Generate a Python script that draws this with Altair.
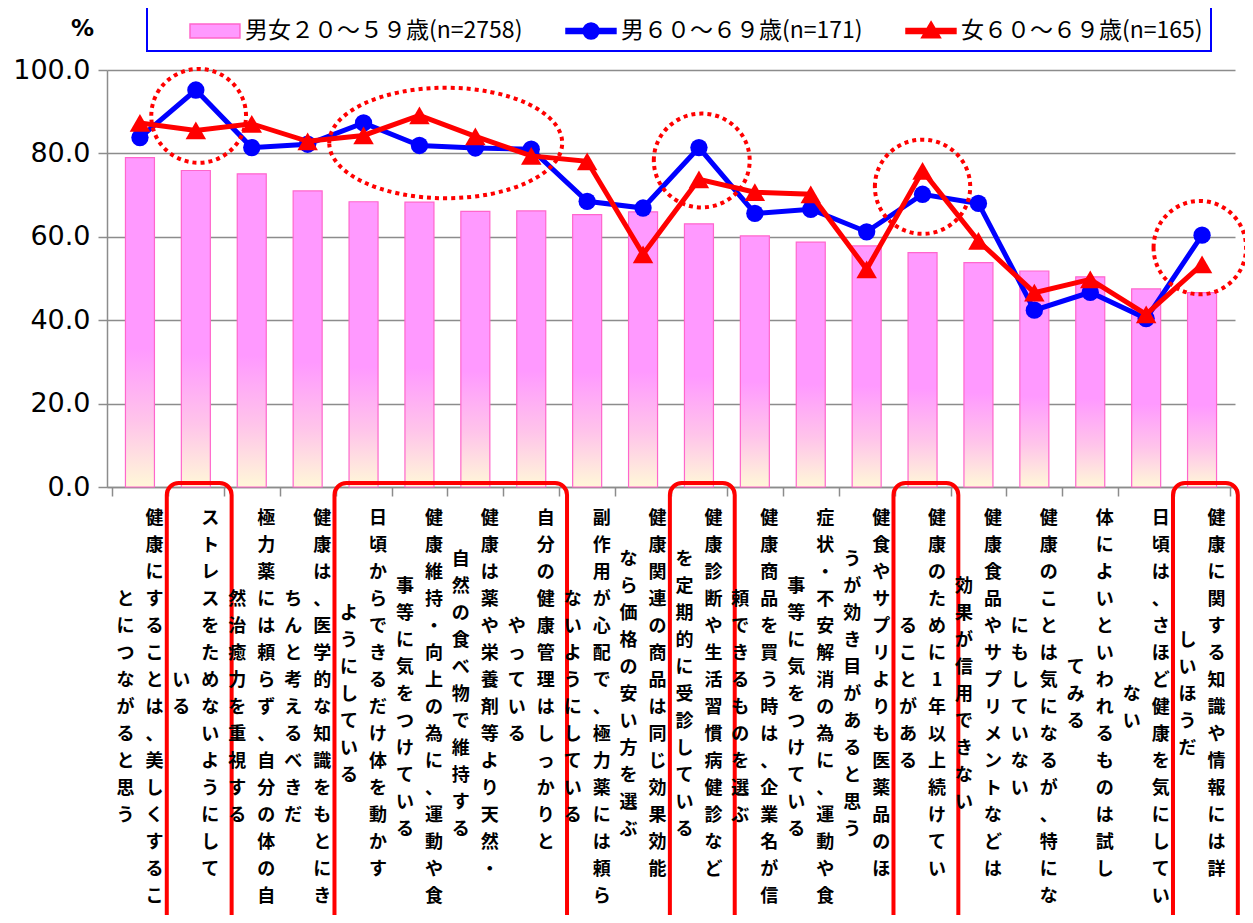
import altair as alt
import pandas as pd

# ---------------- data ----------------
series_names = ["男女２０～５９歳(n=2758)", "男６０～６９歳(n=171)", "女６０～６９歳(n=165)"]

label_col1 = [
    "健康にすることは、美しくするこ",
    "ストレスをためないようにして",
    "極力薬には頼らず、自分の体の自",
    "健康は、医学的な知識をもとにき",
    "日頃からできるだけ体を動かす",
    "健康維持・向上の為に、運動や食",
    "健康は薬や栄養剤等より天然・",
    "自分の健康管理はしっかりと",
    "副作用が心配で、極力薬には頼ら",
    "健康関連の商品は同じ効果効能",
    "健康診断や生活習慣病健診など",
    "健康商品を買う時は、企業名が信",
    "症状・不安解消の為に、運動や食",
    "健食やサプリよりも医薬品のほ",
    "健康のために1年以上続けてい",
    "健康食品やサプリメントなどは",
    "健康のことは気になるが、特にな",
    "体によいといわれるものは試し",
    "日頃は、さほど健康を気にしてい",
    "健康に関する知識や情報には詳",
]
label_col2 = [
    "とにつながると思う",
    "いる",
    "然治癒力を重視する",
    "ちんと考えるべきだ",
    "ようにしている",
    "事等に気をつけている",
    "自然の食べ物で維持する",
    "やっている",
    "ないようにしている",
    "なら価格の安い方を選ぶ",
    "を定期的に受診している",
    "頼できるものを選ぶ",
    "事等に気をつけている",
    "うが効き目があると思う",
    "ることがある",
    "効果が信用できない",
    "にもしていない",
    "てみる",
    "ない",
    "しいほうだ",
]

bar_values = [79.0, 75.9, 75.1, 71.0, 68.4, 68.3, 66.1, 66.2, 65.3, 66.0,
              63.1, 60.2, 58.7, 57.8, 56.2, 53.8, 51.8, 50.4, 47.5, 46.6]
male_values = [83.8, 95.2, 81.4, 82.2, 87.3, 81.9, 81.3, 81.0, 68.5, 66.9,
               81.4, 65.6, 66.6, 61.2, 70.2, 68.0, 42.4, 46.7, 40.4, 60.4]
female_values = [87.3, 85.5, 87.1, 82.9, 84.3, 89.1, 84.1, 79.4, 78.1, 55.8,
                 73.8, 70.7, 70.2, 52.2, 75.8, 59.0, 46.6, 49.8, 41.4, 53.4]
y_ticks = [0, 20, 40, 60, 80, 100]

# highlighted categories (0-based index ranges)
hl_first = [1, 4, 10, 14, 19]
hl_last = [1, 7, 10, 14, 19]
# dotted ellipses: centre (category index, value) and extent (categories, value units)
ell_center = [1.05, 5.47, 10.05, 14.0, 18.96]
ell_value = [89.0, 82.5, 78.3, 72.0, 57.4]
ell_w = [1.68, 4.13, 1.70, 1.69, 1.64]
ell_h = [22.5, 26.5, 22.5, 22.6, 22.4]

# ---------------- layout ----------------
W, H = 1128, 417
N = len(bar_values)
CAT_PX = W / N
VAL_PX = H / 100.0
LABEL_TOP = 440     # px below plot top
PITCH = 27          # vertical character pitch
GRAY = "#8c8c8c"
JP = "Noto Sans CJK JP"


def px_to_value(px_from_top):
    return 100.0 - px_from_top / VAL_PX


df = pd.DataFrame({"idx": list(range(N)), "bar": bar_values,
                   "male": male_values, "female": female_values})

x_scale = alt.Scale(domain=[-0.5, N - 0.5], nice=False, zero=False)
y_scale = alt.Scale(domain=[0, 100], nice=False)

grad = alt.LinearGradient(
    gradient="linear", x1=0, x2=0, y1=0, y2=1,
    stops=[alt.GradientStop(offset=0, color="#ff99ff"),
           alt.GradientStop(offset=0.58, color="#ff99ff"),
           alt.GradientStop(offset=0.8, color="#ffc4ea"),
           alt.GradientStop(offset=1, color="#fff8d8")])

x_axis = alt.Axis(values=[i - 0.5 for i in range(N + 1)], labels=False, title=None,
                  grid=False, ticks=True, tickSize=9, tickColor=GRAY, tickWidth=1.5,
                  domainColor=GRAY, domainWidth=1.5)
y_axis = alt.Axis(values=y_ticks, format=".1f", title="%", titleAngle=0,
                  titleX=-25, titleY=-42, titleAlign="center", titleBaseline="middle",
                  titleFont="DejaVu Sans", titleFontSize=23, titleFontWeight="bold",
                  titleColor="#000000",
                  labelFont="DejaVu Sans", labelFontSize=27, labelColor="#000000",
                  labelPadding=8, tickSize=9, tickColor=GRAY, tickWidth=1.5,
                  domainColor=GRAY, domainWidth=1.5, grid=True, gridColor=GRAY,
                  gridWidth=1.5)


def X(f):
    return alt.X(f, scale=x_scale, axis=x_axis)


def Y(f):
    return alt.Y(f, scale=y_scale, axis=y_axis)


bars = alt.Chart(df).mark_bar(width=29, fill=grad, stroke="#ff66cc", strokeWidth=1.2,
                              orient="vertical").encode(x=X("idx:Q"), y=Y("bar:Q"))

male_line = alt.Chart(df).mark_line(color="#0000ff", strokeWidth=5).encode(
    x=X("idx:Q"), y=Y("male:Q"))
male_pts = alt.Chart(df).mark_point(shape="circle", filled=True, size=300,
                                    color="#0000ff", opacity=1).encode(
    x=X("idx:Q"), y=Y("male:Q"))
female_line = alt.Chart(df).mark_line(color="#ff0000", strokeWidth=5).encode(
    x=X("idx:Q"), y=Y("female:Q"))
female_pts = alt.Chart(df).mark_point(shape="triangle-up", filled=True, size=420,
                                      color="#ff0000", opacity=1).encode(
    x=X("idx:Q"), y=Y("female:Q"))

# ---------------- legend ----------------
sym_bar = "M -1 -0.47 L 2.33 -0.47 L 2.33 0.47 L -1 0.47 Z"
sym_circ = ("M -1 -0.17 L 2.33 -0.17 L 2.33 0.17 L -1 0.17 Z "
            "M 1.2 0 A 0.53 0.53 0 1 1 0.14 0 A 0.53 0.53 0 1 1 1.2 0 Z")
sym_tri = ("M -1 -0.17 L 2.33 -0.17 L 2.33 0.17 L -1 0.17 Z "
           "M 0.67 -0.62 L 1.3 0.45 L 0.04 0.45 Z")

leg_df = pd.DataFrame({"series": series_names, "lx": [0, 0, 0], "ly": [0, 0, 0]})
legend = alt.Legend(title=None, orient="none", legendX=40, legendY=-63,
                    direction="horizontal", symbolSize=900, symbolOffset=34,
                    labelFont=JP, labelFontSize=23, labelColor="#000000",
                    labelLimit=600, labelOffset=24, columnPadding=8, padding=8,
                    strokeColor="#0000ff", fillColor="#ffffff",
                    symbolStrokeWidth=1.5, symbolOpacity=1)
legend_layer = alt.Chart(leg_df).mark_point(filled=True, opacity=0).encode(
    x=X("lx:Q"), y=Y("ly:Q"),
    fill=alt.Fill("series:N", sort=series_names, legend=legend,
                  scale=alt.Scale(domain=series_names, range=["#ff99ff", "#0000ff", "#ff0000"])),
    stroke=alt.Stroke("series:N", sort=series_names, legend=legend,
                      scale=alt.Scale(domain=series_names, range=["#ff66cc", "#0000ff", "#ff0000"])),
    shape=alt.Shape("series:N", sort=series_names, legend=legend,
                    scale=alt.Scale(domain=series_names, range=[sym_bar, sym_circ, sym_tri])),
)

# ---------------- annotations ----------------
ell_layers = []
for cx, cv, w, h in zip(ell_center, ell_value, ell_w, ell_h):
    wpx, hpx = w * CAT_PX, h * VAL_PX
    r = hpx / wpx
    path = f"M -1 0 A 1 {r:.4f} 0 1 1 1 0 A 1 {r:.4f} 0 1 1 -1 0 Z"
    d = pd.DataFrame({"ex": [cx], "ev": [cv]})
    ell_layers.append(
        alt.Chart(d).mark_point(shape=path, size=wpx * wpx, filled=False,
                                stroke="#ff0000", strokeWidth=4, strokeDash=[4, 4],
                                opacity=1).encode(x=X("ex:Q"), y=Y("ev:Q")))

box_df = pd.DataFrame({
    "bx1": [a - 0.52 for a in hl_first],
    "bx2": [b + 0.64 for b in hl_last],
    "by1": [px_to_value(H - 4)] * len(hl_first),
    "by2": [px_to_value(H + 470)] * len(hl_first),
})
boxes = alt.Chart(box_df).mark_rect(fillOpacity=0, stroke="#ff0000", strokeWidth=4,
                                    cornerRadius=12).encode(
    x=X("bx1:Q"), x2="bx2:Q", y=Y("by1:Q"), y2="by2:Q")

lab_df = pd.DataFrame({
    "idx": list(range(N)),
    "t1": ["\n".join(s) for s in label_col1],
    "t2": ["\n".join(s) for s in label_col2],
    "y1": [px_to_value(LABEL_TOP)] * N,
    "y2": [px_to_value(LABEL_TOP + (len(a) - len(b)) * PITCH / 2)
           for a, b in zip(label_col1, label_col2)],
})
text_kw = dict(align="center", baseline="top", lineBreak="\n", lineHeight=PITCH,
               font=JP, fontSize=18, fontWeight="bold", color="#000000")
text1 = alt.Chart(lab_df).mark_text(dx=14.5, **text_kw).encode(
    x=X("idx:Q"), y=Y("y1:Q"), text="t1:N")
text2 = alt.Chart(lab_df).mark_text(dx=-14.5, **text_kw).encode(
    x=X("idx:Q"), y=Y("y2:Q"), text="t2:N")

chart = alt.layer(
    bars, male_line, male_pts, female_line, female_pts, legend_layer,
    *ell_layers, boxes, text1, text2
).properties(
    width=W, height=H,
    background="white",
    autosize=alt.AutoSizeParams(type="none"),
    padding={"left": 99, "top": 62, "right": 10, "bottom": 428},
).configure_view(strokeWidth=0).configure_legend(strokeWidth=2)

chart.save("out.html", embed_options={"renderer": "svg", "actions": False})
